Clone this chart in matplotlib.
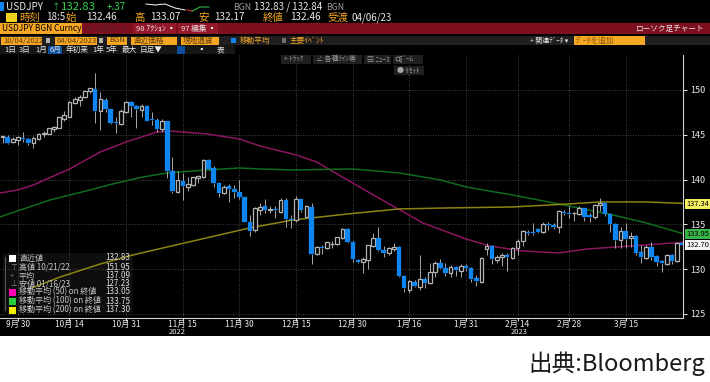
import matplotlib
matplotlib.use('Agg')
import matplotlib.pyplot as plt
import matplotlib.patches as mpatches

plt.rcParams['font.family'] = ['Noto Sans CJK JP', 'DejaVu Sans']

# Candles, index 0 = 9/30 (trading days)
first_index = -3
opens = [144.78, 144.78, 144.14, 144.40, 144.67, 144.52, 144.03, 144.55, 145.08, 145.11,
         145.60, 145.75, 146.79, 147.02, 148.51, 148.88, 149.18, 149.93, 150.11, 147.65,
         148.88, 147.87, 146.38, 146.20, 147.50, 148.66, 148.21, 147.80, 148.25, 146.79,
         146.61, 145.64, 146.49, 140.90, 138.66, 139.89, 139.22, 139.40, 140.15, 140.23,
         142.20, 141.27, 139.59, 138.47, 139.29, 138.96, 138.66, 138.06, 135.30, 134.37,
         136.61, 137.05, 136.61, 136.72, 136.35, 137.73, 135.64, 135.49, 137.84, 135.86,
         136.91, 131.68, 132.50, 132.32, 132.80, 132.80, 133.44, 134.48, 133.06, 131.01,
         130.75, 131.01, 132.58, 133.44, 132.09, 131.83, 132.21, 132.51, 129.27, 127.67,
         128.60, 128.04, 128.94, 128.42, 129.64, 130.65, 130.16, 129.61, 130.20, 129.83,
         130.39, 130.09, 128.97, 128.60, 132.25, 132.62, 131.02, 131.39, 131.58, 131.24,
         132.32, 133.14, 134.18, 134.14, 134.44, 134.18, 135.04, 134.93, 134.67, 136.41,
         136.30, 136.23, 136.12, 136.79, 136.08, 135.86, 137.12, 137.34, 136.12, 135.04,
         133.25, 134.22, 133.44, 133.74, 131.88, 131.21, 132.51, 131.47, 130.91, 130.57,
         131.58, 130.91, 132.88]
highs = [144.78, 144.93, 144.70, 144.85, 145.26, 144.59, 144.85, 145.23, 145.37, 145.71,
         145.97, 147.02, 147.65, 148.81, 149.18, 149.40, 149.93, 150.26, 151.90, 149.81,
         149.07, 147.87, 147.02, 147.84, 148.81, 148.77, 148.32, 148.43, 148.32, 147.58,
         146.83, 146.72, 146.53, 142.50, 140.90, 140.71, 140.34, 140.34, 140.52, 142.28,
         142.28, 141.46, 139.67, 139.40, 139.48, 139.40, 139.96, 138.10, 136.05, 136.91,
         137.43, 137.88, 137.05, 137.05, 137.91, 137.91, 136.05, 138.17, 137.84, 137.17,
         137.43, 132.58, 132.69, 133.06, 133.10, 133.62, 134.56, 134.56, 133.10, 131.09,
         131.39, 132.69, 134.07, 134.74, 132.58, 132.43, 132.88, 132.58, 129.35, 128.79,
         128.79, 131.58, 129.09, 130.65, 130.95, 131.09, 130.65, 130.46, 130.35, 130.54,
         130.54, 130.20, 129.35, 131.32, 132.88, 132.69, 131.58, 131.84, 131.84, 132.51,
         133.33, 134.37, 134.37, 135.19, 134.55, 135.22, 135.30, 135.11, 136.60, 136.60,
         137.05, 136.41, 137.05, 136.79, 136.23, 137.27, 137.90, 137.42, 136.30, 135.11,
         134.67, 135.19, 134.18, 133.81, 132.69, 132.69, 132.99, 131.58, 131.02, 131.69,
         131.69, 132.88, 132.88]
lows = [144.03, 143.96, 144.03, 143.85, 144.22, 143.81, 143.51, 144.40, 144.70, 145.08,
        145.34, 145.71, 146.57, 146.94, 148.40, 148.25, 149.10, 149.63, 146.27, 145.52,
        147.58, 146.20, 145.15, 146.08, 147.39, 147.02, 145.71, 147.02, 146.53, 146.08,
        145.34, 145.26, 140.15, 138.55, 138.55, 137.73, 138.77, 139.33, 139.67, 140.15,
        141.08, 139.22, 138.10, 138.40, 137.54, 137.91, 137.80, 135.30, 133.70, 134.18,
        136.05, 136.23, 136.23, 135.68, 136.23, 134.67, 134.56, 135.30, 136.42, 135.79,
        130.56, 131.57, 131.68, 132.21, 132.36, 132.69, 133.32, 132.95, 130.83, 130.71,
        129.60, 129.97, 132.50, 132.06, 131.31, 131.57, 132.06, 129.09, 127.49, 127.30,
        128.04, 127.67, 127.86, 128.34, 129.09, 129.98, 129.27, 129.09, 129.27, 129.16,
        129.83, 128.60, 128.12, 128.42, 131.58, 130.57, 130.65, 130.35, 129.83, 131.17,
        131.58, 132.62, 133.81, 133.81, 134.07, 134.07, 134.37, 134.44, 134.07, 136.04,
        135.67, 135.41, 136.04, 135.41, 135.30, 135.56, 136.53, 135.93, 134.18, 132.32,
        132.32, 132.32, 132.51, 131.58, 130.65, 131.13, 131.02, 130.35, 129.72, 130.46,
        130.57, 130.83, 132.70]
closes = [144.78, 144.10, 144.52, 144.70, 144.52, 144.03, 144.67, 145.08, 145.23, 145.71,
          145.82, 146.94, 147.20, 148.69, 149.03, 149.25, 149.93, 150.19, 147.65, 148.96,
          147.84, 146.31, 146.27, 147.65, 148.69, 148.21, 147.87, 148.25, 146.57, 146.61,
          145.64, 146.53, 140.90, 138.77, 139.96, 139.33, 139.52, 140.23, 140.41, 142.20,
          141.20, 139.59, 138.55, 139.22, 138.99, 138.66, 138.02, 135.30, 134.29, 136.79,
          136.98, 136.61, 136.68, 136.57, 137.73, 135.60, 135.53, 137.84, 136.61, 137.05,
          131.68, 132.50, 132.36, 132.99, 132.80, 133.55, 134.52, 133.03, 131.09, 130.75,
          131.09, 132.65, 133.47, 132.09, 131.83, 132.32, 132.50, 129.23, 127.86, 128.68,
          128.12, 128.94, 128.42, 129.64, 130.72, 130.13, 129.61, 130.20, 129.90, 130.39,
          130.09, 128.90, 128.68, 131.24, 132.62, 131.09, 131.39, 131.61, 131.39, 132.40,
          133.18, 134.26, 134.00, 134.00, 134.18, 135.04, 134.93, 134.67, 136.53, 136.23,
          136.12, 136.23, 136.79, 135.86, 135.86, 137.16, 137.34, 136.12, 135.00, 133.25,
          134.22, 133.33, 133.74, 131.84, 131.32, 132.51, 131.39, 130.83, 130.72, 131.61,
          130.91, 132.88, 132.73]

# Moving averages, read at the points where the curve bends
ma50_x = [-3.5, 0, 3, 10, 16, 21, 27, 29.5, 36.7, 43, 47, 54, 58, 60.6, 65, 69, 74, 78.6, 87, 91.6, 98, 105, 110.5, 119, 129.2]
ma50_y = [138.5, 138.84, 139.4, 141.18, 143.08, 144.2, 145.31, 145.42, 145.09, 144.53, 143.75, 142.75, 141.96, 141.07,
          139.62, 138.28, 136.66, 135.16, 133.37, 132.59, 132.03, 131.81, 132.25, 132.59, 133.0]
ma100_x = [-3.5, 6.2, 14, 18.4, 24.3, 29, 36.7, 43, 47, 53.4, 65, 74, 82, 87, 96, 107, 115.5, 122, 129.2]
ma100_y = [135.83, 137.72, 138.84, 139.51, 140.29, 140.74, 141.07, 141.29, 141.18, 141.07, 141.18, 140.74, 139.96,
           139.17, 138.28, 137.05, 136.05, 135.16, 133.95]
ma200_x = [2.5, 8.2, 16, 22.3, 29, 45, 53.4, 64, 74, 83.3, 96, 107, 113, 122, 129.2]
ma200_y = [127.85, 129.13, 130.58, 131.58, 132.48, 134.6, 135.49, 136.16, 136.72, 136.83, 136.94, 137.28, 137.5,
           137.5, 137.34]

tick_index = [0, 10, 21, 32, 43, 54, 65, 76, 87, 97, 107, 118]
tick_labels = ['9月 30', '10月 14', '10月 31', '11月 15', '11月 30', '12月 15', '12月 30', '1月 16', '1月 31',
               '2月 14', '2月 28', '3月 15']
price_ticks = [125, 130, 135, 140, 145, 150]

legend_names = ['直近値', '高値 10/21/22', '平均', '安値 01/16/23', '移動平均 (50) on 終値',
                '移動平均 (100) on 終値', '移動平均 (200) on 終値']
legend_values = ['132.83', '151.95', '137.09', '127.23', '133.05', '133.75', '137.30']
legend_colors = ['white', None, None, None, '#ff00b4', '#28d040', '#f5f000']

W, H = 710, 382
BLUE = '#0d86f2'
ORANGE = '#f5a623'
TXT = '#e8e8e8'

fig = plt.figure(figsize=(W / 100, H / 100), dpi=100, facecolor='white')

# page underlay in pixel coordinates
bg = fig.add_axes([0, 0, 1, 1], zorder=0)
bg.set_xlim(0, W)
bg.set_ylim(H, 0)
bg.axis('off')
bg.add_patch(mpatches.Rectangle((0, 0), W, 336, color='black', lw=0))
bg.add_patch(mpatches.Rectangle((3, 253), 130, 60, color='#0e0e0e', lw=0))

# chart axes
left, right, top, bottom = 0, 683, 55, 318
ax = fig.add_axes([left / W, 1 - bottom / H, (right - left) / W, (bottom - top) / H], zorder=1)
ax.set_facecolor('none')
ax.set_xlim(-3.495, 129.13)
ax.set_ylim(124.55, 153.9)
for name in ['top', 'left']:
    ax.spines[name].set_visible(False)
ax.spines['right'].set_color('#d0d0d0')
ax.spines['bottom'].set_color('#d0d0d0')
ax.spines['right'].set_linewidth(0.8)
ax.spines['bottom'].set_linewidth(0.8)
ax.yaxis.tick_right()
ax.set_yticks(price_ticks)
ax.set_xticks(tick_index)
ax.set_xticklabels(tick_labels)
ax.tick_params(axis='x', colors=TXT, labelsize=6, length=2, width=0.7, pad=-0.5)
ax.tick_params(axis='y', colors=TXT, labelsize=6.5, length=3, width=0.7, pad=2)
ax.grid(True, color='#5a5a5a', linestyle=(0, (1, 2)), linewidth=0.6)
ax.set_axisbelow(True)

ax.plot(ma50_x, ma50_y, color='#8a1560', lw=1.1, zorder=2)
ax.plot(ma100_x, ma100_y, color='#0f6b1e', lw=1.1, zorder=2)
ax.plot(ma200_x, ma200_y, color='#8c8412', lw=1.1, zorder=2)

for n in range(len(opens)):
    i = first_index + n
    o, h, l, c = opens[n], highs[n], lows[n], closes[n]
    lo, hi = min(o, c), max(o, c)
    up = c >= o
    ax.vlines(i, l, lo, color='#a8a8a8', lw=0.7, zorder=3)
    ax.vlines(i, hi, h, color='#a8a8a8', lw=0.7, zorder=3)
    if up:
        ax.bar(i, max(hi - lo, 0.05), bottom=lo, width=0.72, facecolor='black', edgecolor='#b4b4b4', lw=0.9, zorder=4)
    else:
        ax.bar(i, max(hi - lo, 0.05), bottom=lo, width=0.86, facecolor=BLUE, edgecolor=BLUE, lw=0.2, zorder=4)

# overlay above the chart
fg = fig.add_axes([0, 0, 1, 1], zorder=2)
fg.set_xlim(0, W)
fg.set_ylim(H, 0)
fg.axis('off')
fg.patch.set_alpha(0)


def label(x, y, s, color=TXT, size=7, ha='left', **kw):
    fg.text(x, y, s, color=color, fontsize=size, ha=ha, va='center', **kw)


def box(x0, y0, x1, y1, color):
    fg.add_patch(mpatches.Rectangle((x0, y0), x1 - x0, y1 - y0, color=color, lw=0))


# quote rows
box(0, 2, 4, 11, BLUE)
label(6, 7, 'USDJPY', size=7.2)
label(52, 7, '↑', '#35c24c', 6)
label(61, 7, '132.83', '#35d04f', 8.2)
label(107, 7, '+.37', '#35d04f', 7)
label(233, 7, 'BGN', '#9a9a9a', 6.3)
label(254, 7, '132.83 / 132.84', size=7)
label(326, 7, 'BGN', '#9a9a9a', 6.3)
fg.plot([146, 155, 165, 175, 185], [4, 5, 4, 8, 10], color='white', lw=0.7)
fg.plot([187, 192], [10, 11], color='#c02020', lw=0.9)
fg.plot([192, 200, 209], [11, 7, 7], color='#30b040', lw=0.8)

box(6, 13, 17, 22, '#f2d21e')
for x, s, col, size in [(19, '時刻', ORANGE, 7.5), (46, '18:5', TXT, 7), (66, '始', ORANGE, 7.5),
                        (86, '132.46', TXT, 7.2), (134, '高', ORANGE, 7.5), (150, '133.07', TXT, 7.2),
                        (198, '安', ORANGE, 7.5), (214, '132.17', TXT, 7.2), (263, '終値', ORANGE, 7.5),
                        (290, '132.46', TXT, 7.2), (327, '受渡', ORANGE, 7.5), (352, '04/06/23', TXT, 7)]:
    label(x, 17.5, s, col, size)

# red command band
box(0, 23, W, 34, '#7e0f1e')
box(0, 23, 82, 34, ORANGE)
label(2, 28.5, 'USDJPY BGN Curncy', 'black', 6)
label(85, 28.5, '96 比較ﾁｬｰﾄ', '#5a2028', 5.5)
box(133, 23, 176, 34, '#93182a')
label(136, 28.5, '98 ｱｸｼｮﾝ ▪', TXT, 5.5)
box(178, 23, 218, 34, '#93182a')
label(181, 28.5, '97 編集 ▪', TXT, 5.5)
label(705, 28.5, 'ローソク足チャート', TXT, 5.5, ha='right')

# settings row
box(0, 36, W, 45, '#1f1f1f')
for x0, x1, s in [(1, 42, '10/04/2022'), (55, 97, '04/04/2023'), (107, 127, 'BGN'), (131, 177, '直近価格'),
                  (181, 219, '現地通貨')]:
    box(x0, 36.5, x1, 44.5, ORANGE)
    label(x0 + 2, 40.5, s, '#5a3a08', 5.5)
box(46, 38, 50, 43, '#b0b0b0')
box(99, 38, 103, 43, '#b0b0b0')
box(231, 38, 236, 43, BLUE)
label(240, 40.5, '移動平均', ORANGE, 5.5)
box(282, 38, 286, 43, '#707070')
label(290, 40.5, '主要ｲﾍﾞﾝﾄ', ORANGE, 5.5)
label(530, 40.5, '+ 関連ﾃﾞｰﾀ ▾', TXT, 5)
box(574, 36, 645, 44.5, ORANGE)
label(576, 40.5, 'ﾃﾞｰﾀを追加', '#8a5a10', 5.5)

# range row
box(0, 45, 235, 54, '#161616')
box(48, 46, 62, 54, '#0b4f9e')
box(177, 46, 185, 54, '#0b4f9e')
for x, s in [(4, '1日'), (19, '3日'), (35, '1月'), (50, '6月'), (66, '年初来'), (92, '1年'), (106, '5年'), (122, '最大'),
             (140, '日足▼'), (197, '▪'), (217, '表')]:
    label(x, 50, s, TXT, 5.5)

# chart toolbar
for x0, x1, s in [(281, 311, '+ ﾄﾗｯｸ'), (313, 362, '∠ 各種ﾗｲﾝ等'), (364, 391, '▤ ﾆｭｰｽ'), (393, 423, '  ｽﾞｰﾑ')]:
    box(x0, 55, x1, 64, '#202020')
    label(x0 + 3, 59.5, s, '#9a9a9a', 5)
fg.add_patch(mpatches.Circle((398, 59), 2, fill=False, ec='#9a9a9a', lw=0.6))
fg.plot([399.5, 401.5], [60.5, 62.5], color='#9a9a9a', lw=0.6)
box(394, 66, 424, 75, '#202020')
label(397, 70.5, '● ﾘｾｯﾄ', '#a8a8a8', 5)

# legend
fg.plot([5, 5], [257, 310], color='#606060', lw=0.7)
legend_rows = [258, 267, 276, 284, 292, 301, 310]
for y, s, v, c in zip(legend_rows, legend_names, legend_values, legend_colors):
    if c is not None:
        box(9, y - 3.5, 16, y + 3.5, c)
    label(19, y, s, '#c8c8c8', 5.8)
    label(130, y, v, '#e0e0e0', 5.8, ha='right')
label(10, 267, '⊤', '#909090', 5.5, family=['DejaVu Sans'])
label(10, 276, '+', '#909090', 5.5)
label(10, 284, '⊥', '#909090', 5.5, family=['DejaVu Sans'])

# last value tags on the price axis
for y, s, col in [(204, '137.34', '#f2ee60'), (234, '133.95', '#38b44a'), (245, '132.70', '#f4f4f4')]:
    box(685, y - 5, W, y + 5, col)
    label(686, y, s, 'black', 5.4)

label(177, 332, '2022', TXT, 5.5, ha='center')
label(519, 332, '2023', TXT, 5.5, ha='center')

fg.text(705, 364, '出典:Bloomberg', color='#1a1a1a', fontsize=17, ha='right', va='center')

fig.savefig('out.png', dpi=100)
